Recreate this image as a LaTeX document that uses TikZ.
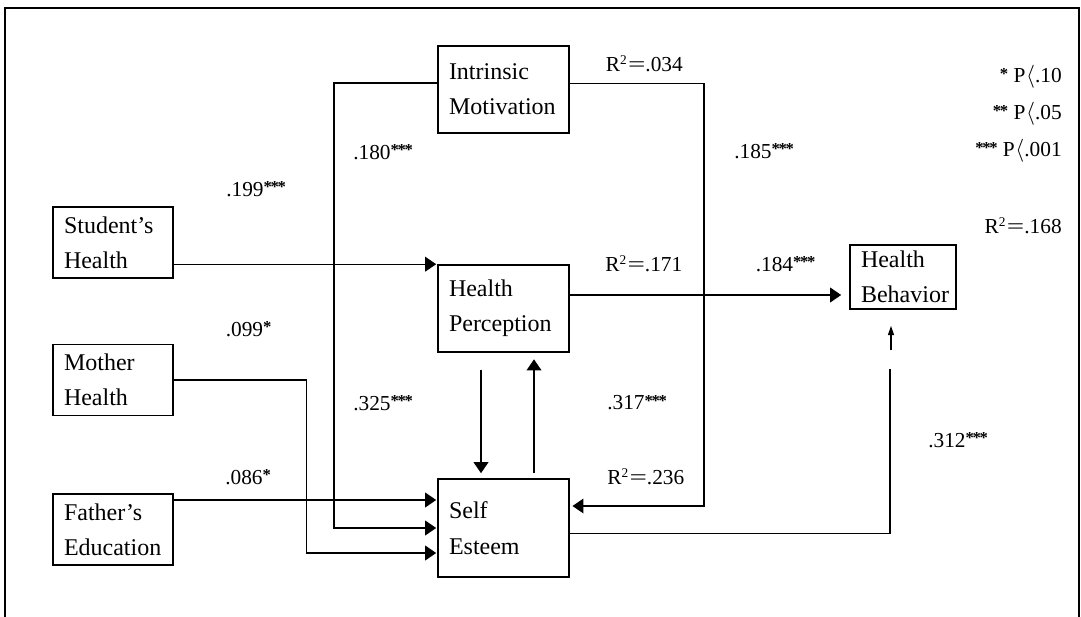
\documentclass[tikz,border=0pt]{standalone}
\usepackage{fontspec}
\usepackage{graphicx}
\setmainfont{Liberation Serif}
\usetikzlibrary{arrows.meta}
\newcommand{\stars}[1]{\raisebox{2.5pt}{\fontsize{12.5pt}{12.5pt}\selectfont\bfseries\addfontfeatures{LetterSpace=-8}#1}}
\newcommand{\wideeq}{\scalebox{1.45}[1]{=}}
\newcommand{\Rsq}{R\raisebox{5pt}{\fontsize{10pt}{10pt}\selectfont 2}\kern1pt\wideeq}
\newcommand{\Pless}{P\kern0.5pt$\langle$}
\begin{document}
\begin{tikzpicture}[x=0.75pt,y=-0.75pt,
  box/.style={draw, line width=1.2pt, rectangle, inner ysep=0pt, inner xsep=8.25pt,
              align=left, font=\fontsize{18pt}{26.5pt}\selectfont},
  lab/.style={inner sep=0pt, font=\fontsize{16pt}{18pt}\selectfont},
  conn/.style={line width=1pt},
  arr/.style={conn, -{Triangle[length=8.25pt,width=11pt]}},
  sarr/.style={conn, -{Triangle[length=7pt,width=4.5pt]}}]

\useasboundingbox (0,0) rectangle (1081,617);
\draw[line width=1.3pt] (5,625) -- (5,8) -- (1079,8) -- (1079,625);

% boxes
\node[box, text width=81.75pt, minimum height=65.25pt] (IM) at (503.5,89.5) {Intrinsic\\Motivation};
\node[box, text width=73.5pt, minimum height=53.25pt] (SH) at (113,242.5) {Student’s\\Health};
\node[box, text width=73.5pt, minimum height=53.25pt] (MH) at (113,380) {Mother\\Health};
\node[box, text width=73.5pt, minimum height=53.25pt] (FE) at (113,529.5) {Father’s\\Education};
\node[box, text width=81.75pt, minimum height=65.25pt] (HP) at (503.5,308.5) {Health\\Perception};
\node[box, text width=81.75pt, minimum height=73.5pt] (SE) at (503.5,528) {Self\\Esteem};
\node[box, text width=63pt, minimum height=48pt] (HB) at (903,277) {Health\\Behavior};

% routing points
\coordinate (lx) at (334,83);
\coordinate (rx) at (704,83.5);
\coordinate (mx) at (306.5,553);
\coordinate (g1) at (890,369);
\coordinate (g2) at (891,350);

% connectors
\draw[arr, shorten >=0.75pt] (SH.east |- HP.north) -- (HP.north west);
\draw[arr, shorten >=6pt] (HP.east |- 0,295) -- (HB.west |- 0,295);
\draw[arr, shorten >=0.75pt] (IM.west |- lx) -- (lx) |- (SE.west);
\draw[arr, shorten >=2pt] (IM.east |- rx) -- (rx) -- (rx |- 0,506) -- (SE.east |- 0,506);
\draw[arr, shorten >=0.75pt] (MH.east) -| (mx) -- (SE.west |- mx);
\draw[arr, shorten >=0.75pt] (FE.east |- 0,500) -- (SE.west |- 0,500);
\draw[arr, shorten <=12.75pt, shorten >=3.75pt] (HP.south -| 481,0) -- (SE.north -| 481,0);
\draw[arr, shorten <=3.75pt, shorten >=4.9pt] (SE.north -| 534,0) -- (HP.south -| 534,0);
\draw[conn] (SE.east |- 0,533.6) -| (g1);
\draw[sarr, shorten >=12pt] (g2) -- (HB.south -| g2);

% labels
\node[lab, anchor=west] (l199) at (226,189) {.199\stars{***}};
\node[lab, anchor=west] (l180) at (353,152) {.180\stars{***}};
\node[lab, anchor=west] (l099) at (225.5,329) {.099\stars{*}};
\node[lab, anchor=west] (l325) at (353,403) {.325\stars{***}};
\node[lab, anchor=west] (l086) at (225,477) {.086\stars{*}};
\node[lab, anchor=west] (r034) at (605.5,64) {\Rsq.034};
\node[lab, anchor=west] (l185) at (734,151) {.185\stars{***}};
\node[lab, anchor=west] (r171) at (605,264) {\Rsq.171};
\node[lab, anchor=west] (l184) at (755.5,264) {.184\stars{***}};
\node[lab, anchor=west] (l317) at (607,402.5) {.317\stars{***}};
\node[lab, anchor=west] (r236) at (607,476.6) {\Rsq.236};
\node[lab, anchor=west] (l312) at (928,440) {.312\stars{***}};
\node[lab, anchor=east] (p10) at (1062,77) {\stars{*} \Pless.10};
\node[lab, anchor=east] (p05) at (1062,114) {\stars{**} \Pless.05};
\node[lab, anchor=east] (p001) at (1062,151) {\stars{***} \Pless.001};
\node[lab, anchor=east] (r168) at (1062,226) {\Rsq.168};
\end{tikzpicture}
\end{document}
